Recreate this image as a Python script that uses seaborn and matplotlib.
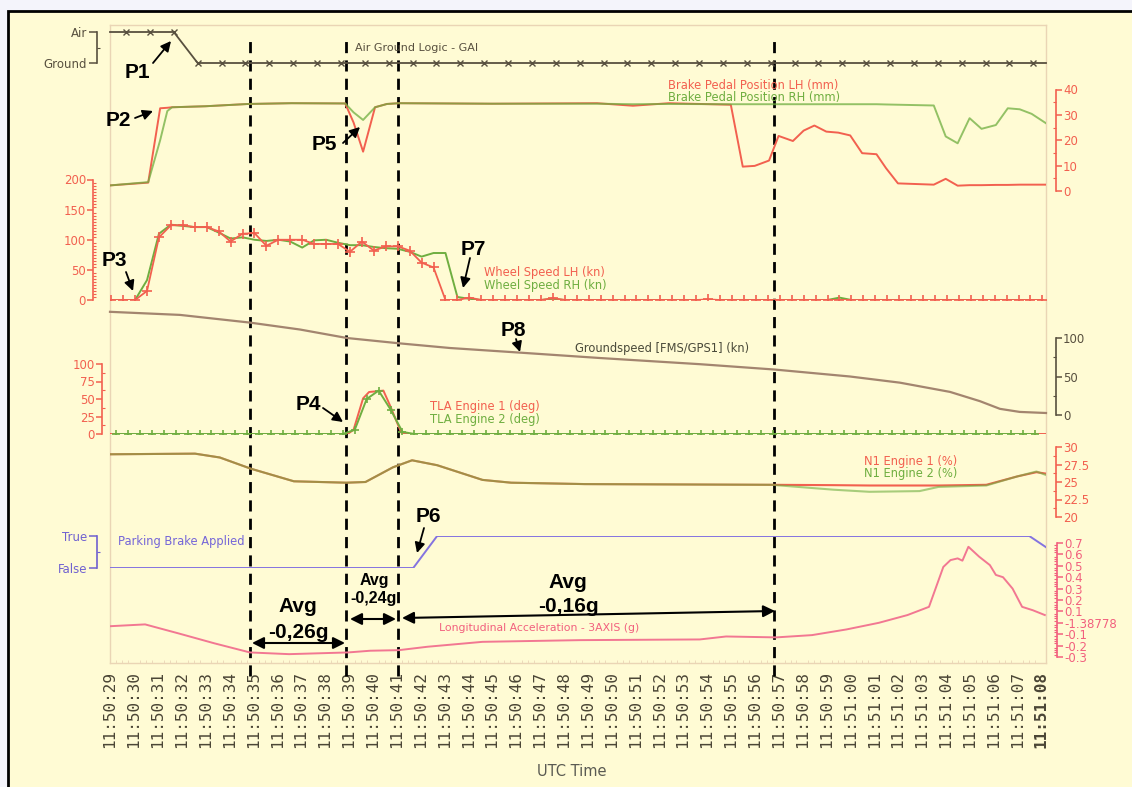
import numpy as np
import matplotlib
matplotlib.use("Agg")
import matplotlib.pyplot as plt
import seaborn as sns
from matplotlib.patches import Rectangle

# figure geometry (pixels, top-left origin)
W, H, DPI = 1132, 787, 100
X_LEFT, X_RIGHT = 110, 1046
BOX_TOP, BOX_BOTTOM = 25, 663
T_MAX = 39.2

CREAM = "#fffbd4"
OUTSIDE = "#f4f4fb"
RED = "#f2604f"
GREEN = "#6fae40"
DARK = "#58503f"
BROWN = "#a3856f"
PURPLE = "#8473e0"
PINK = "#f27792"
NARROW = ["Liberation Sans Narrow", "Liberation Sans", "DejaVu Sans"]

# ---- data (seconds after 11:50:29) ----
TIME_LABELS = ["11:50:29", "11:50:30", "11:50:31", "11:50:32", "11:50:33", "11:50:34",
               "11:50:35", "11:50:36", "11:50:37", "11:50:38", "11:50:39", "11:50:40",
               "11:50:41", "11:50:42", "11:50:43", "11:50:44", "11:50:45", "11:50:46",
               "11:50:47", "11:50:48", "11:50:49", "11:50:50", "11:50:51", "11:50:52",
               "11:50:53", "11:50:54", "11:50:55", "11:50:56", "11:50:57", "11:50:58",
               "11:50:59", "11:51:00", "11:51:01", "11:51:02", "11:51:03", "11:51:04",
               "11:51:05", "11:51:06", "11:51:07", "11:51:08"]

AG_TIME = np.r_[0.0, np.arange(0.67, 39, 1.0), T_MAX]
AG_STATE = [1, 1, 1, 1, 0, 0, 0, 0, 0, 0, 0, 0, 0, 0, 0, 0, 0, 0, 0, 0, 0,
            0, 0, 0, 0, 0, 0, 0, 0, 0, 0, 0, 0, 0, 0, 0, 0, 0, 0, 0, 0]

BRAKE_T = [0, 1.6, 2.1, 2.4, 2.6, 4.0, 5.8, 7.6, 9.85, 10.2, 10.6, 11.1, 11.6, 12.1,
           16, 20.4, 21.9, 23.4, 26.0, 26.5, 27.0, 27.6, 28.0, 28.6, 29.05, 29.5,
           30.0, 30.5, 31.0, 31.5, 32.1, 32.5, 33.0, 34.5, 35.0, 35.5, 36.0, 36.5,
           37.1, 37.6, 38.1, 38.6, 39.2]
BRAKE_LH = [2.2, 3.3, 32.6, 32.8, 33, 33.4, 34.3, 34.6, 34.5, 27, 15.5, 33, 34.3, 34.6,
            34.4, 34.6, 33.6, 34.6, 34, 9.6, 9.9, 12, 21.7, 19.7, 23.8, 25.8,
            23.4, 23, 21.9, 14.9, 14.5, 9, 3, 2.5, 4.8, 2.1, 2.3, 2.3,
            2.4, 2.4, 2.5, 2.5, 2.5]
BRAKE_RH = [2.2, 3.5, 20, 31.5, 33, 33.4, 34.3, 34.6, 34.5, 31, 28, 33, 34.3, 34.6,
            34.4, 34.4, 34.2, 34.3, 34.2, 34.2, 34.2, 34.2, 34.2, 34.2, 34.2, 34.2,
            34.2, 34.2, 34.2, 34.2, 34.2, 34.1, 34.0, 33.7, 21.5, 18.8, 28.7, 24.5,
            26, 32.6, 32.2, 30.4, 26.7]

WHEEL_T = np.arange(0.05, 39.1, 0.5)
WHEEL_LH = [0, 0, 0, 15, 104, 124, 124, 121, 121, 114,
            97, 110, 111, 90, 100, 100, 100, 93, 93, 93,
            80, 97, 82, 89, 89, 82, 62, 54, 0, 0,
            4, 0, 0, 0, 0, 0, 0, 3, 0, 0,
            0, 0, 0, 0, 0, 0, 0, 0, 0, 0,
            1, 0, 0, 0, 0, 0, 0, 0, 0, 0,
            0, 0, 0, 0, 0, 0, 0, 0, 0, 0,
            0, 0, 0, 0, 0, 0, 0, 0, 0]
WHEEL_RH = [0, 0, 0, 33, 110, 125, 123, 121, 121, 112,
            102, 104, 100, 98, 100, 97, 87, 99, 100, 95,
            91, 91, 88, 86, 85, 80, 72, 78, 78, 5,
            2, 0, 0, 0, 0, 0, 0, 2, 0, 0,
            0, 0, 0, 0, 0, 0, 0, 0, 0, 0,
            0, 0, 0, 0, 0, 0, 0, 0, 0, 0,
            0, 4, 0, 0, 0, 0, 0, 0, 0, 0,
            0, 0, 0, 0, 0, 0, 0, 0, 0]

GS_T = [0, 2.93, 5.86, 7.96, 9.92, 12.14, 14.24, 17.17, 20.52, 24.7, 27.85, 30.99,
        33.08, 35.18, 36.43, 37.27, 38.1, 39.2]
GS_V = [134, 130, 120, 111, 100, 93, 87, 81, 74, 66, 59, 50, 42, 30, 18, 8, 4, 2.6]

TLA1_T = [0, 9.95, 10.2, 10.6, 10.85, 11.45, 11.75, 12.0, 12.2, 12.5, 39.2]
TLA1_V = [0, 0, 6, 51, 60, 62, 39, 18, 2, 0, 0]
TLA2_T = np.arange(0.25, 39.0, 0.5)
TLA2_V = [0, 0, 0, 0, 0, 0, 0, 0, 0, 0,
          0, 0, 0, 0, 0, 0, 0, 0, 0, 0,
          6, 50, 62, 35, 3, 0, 0, 0, 0, 0,
          0, 0, 0, 0, 0, 0, 0, 0, 0, 0,
          0, 0, 0, 0, 0, 0, 0, 0, 0, 0,
          0, 0, 0, 0, 0, 0, 0, 0, 0, 0,
          0, 0, 0, 0, 0, 0, 0, 0, 0, 0,
          0, 0, 0, 0, 0, 0, 0, 0]

N1_T = [0, 3.56, 4.6, 5.9, 7.7, 9.9, 10.7, 11.85, 12.65, 13.7, 15.6, 16.8, 19.9,
        27.7, 30.3, 31.8, 33.9, 34.7, 36.7, 38.0, 38.8, 39.2]
N1_ENG1 = [28.96, 29.05, 28.5, 26.9, 25.1, 24.9, 25.0, 27.1, 28.1, 27.4, 25.3, 24.9,
           24.7, 24.6, 24.55, 24.5, 24.5, 24.5, 24.6, 25.8, 26.4, 26.2]
N1_ENG2 = [28.96, 29.05, 28.5, 26.9, 25.1, 24.9, 25.0, 27.1, 28.1, 27.4, 25.3, 24.9,
           24.7, 24.6, 23.9, 23.6, 23.7, 24.3, 24.5, 25.8, 26.5, 26.0]

PB_T = [0, 12.7, 13.7, 38.5, 39.2]
PB_V = [0, 0, 1, 1, 0.65]

ACC_T = [0, 1.47, 2.87, 4.37, 5.86, 7.5, 9.97, 10.9, 12.1, 13.3, 15.6, 19.7, 24.7,
         25.8, 27.9, 29.4, 30.85, 32.2, 33.4, 34.3, 34.9, 35.2, 35.5, 35.7, 35.95,
         36.4, 36.85, 37.1, 37.4, 37.8, 38.2, 38.65, 39.15]
ACC_V = [-0.03, -0.014, -0.093, -0.18, -0.26, -0.275, -0.26, -0.245, -0.24, -0.21,
         -0.167, -0.152, -0.146, -0.12, -0.128, -0.108, -0.058, 0.0, 0.068, 0.14,
         0.49, 0.55, 0.565, 0.545, 0.667, 0.58, 0.506, 0.42, 0.40, 0.30, 0.14, 0.11,
         0.068]
ACC_TICKS = [-0.3, -0.2, -0.1, 0.0, 0.1, 0.2, 0.3, 0.4, 0.5, 0.6, 0.7]
ACC_TICKLABELS = ["-0.3", "-0.2", "-0.1", "-1.38778", "0.1", "0.2", "0.3", "0.4",
                  "0.5", "0.6", "0.7"]

MARK_TIMES = [5.85, 9.9, 12.05, 27.8]


def new_axes(top, bottom):
    ax = fig.add_axes([X_LEFT / W, 1 - bottom / H, (X_RIGHT - X_LEFT) / W,
                       (bottom - top) / H])
    ax.set_facecolor("none")
    return ax


def style_track(ax, ylim, side, offset, color, major, labels=None, minor=None, ticklen=4):
    for name, sp in ax.spines.items():
        sp.set_visible(name == side)
    sp = ax.spines[side]
    sp.set_position(("outward", offset * 72 / DPI))
    sp.set_color(color)
    sp.set_linewidth(1.2)
    ax.set_xticks([])
    ax.yaxis.set_ticks_position(side)
    ax.set_yticks(major)
    if labels is not None:
        ax.set_yticklabels(labels)
    if minor is not None:
        ax.set_yticks(minor, minor=True)
    ax.tick_params(axis="y", which="major", direction="out", length=ticklen, width=1.1,
                   color=color, labelcolor=color, labelsize=8.5, pad=1)
    ax.tick_params(axis="y", which="minor", direction="in", length=2.5, width=0.8,
                   color=color)
    ax.set_xlabel("")
    ax.set_ylabel("")
    ax.set_xlim(0, T_MAX)
    ax.set_ylim(*ylim)


def label(text, x, y, color, size=8.3):
    fig.text(x / W, 1 - y / H, text, color=color, fontsize=size, ha="left", va="center")


def callout(text, pos, tail, head, size=15):
    fig.text(pos[0] / W, 1 - pos[1] / H, text, ha="center", va="center", fontsize=size,
             fontweight="bold", family=NARROW, color="black")
    fig.add_artist(matplotlib.patches.FancyArrowPatch(
        (tail[0] / W, 1 - tail[1] / H), (head[0] / W, 1 - head[1] / H),
        transform=fig.transFigure, arrowstyle="-|>,head_length=6,head_width=3",
        color="black", lw=1.3, shrinkA=0, shrinkB=0))


def span_arrow(x0, y0, x1, y1):
    fig.add_artist(matplotlib.patches.FancyArrowPatch(
        (x0 / W, 1 - y0 / H), (x1 / W, 1 - y1 / H), transform=fig.transFigure,
        arrowstyle="<|-|>,head_length=7,head_width=3.5", color="black", lw=1.5,
        shrinkA=0, shrinkB=0))


plt.rcParams["font.family"] = ["DejaVu Sans"]
fig = plt.figure(figsize=(W / DPI, H / DPI), dpi=DPI, facecolor=OUTSIDE)
fig.patches.append(Rectangle((8 / W, -0.02), 1.1, 1.02 - 11 / H, transform=fig.transFigure,
                             facecolor=CREAM, edgecolor="black", lw=2, zorder=-10))

# main frame with time axis
ax_main = new_axes(BOX_TOP, BOX_BOTTOM)
ax_main.set_xlim(0, T_MAX)
ax_main.set_ylim(0, 1)
ax_main.set_yticks([])
ax_main.set_xticks(range(len(TIME_LABELS)))
ax_main.set_xticklabels(TIME_LABELS, rotation=90, family="DejaVu Sans Mono", fontsize=11.5,
                        color="#4a4535")
ax_main.get_xticklabels()[-1].set_fontweight("bold")
ax_main.set_xticks(np.arange(0, T_MAX, 0.25), minor=True)
ax_main.tick_params(axis="x", which="major", length=0, pad=6)
ax_main.tick_params(axis="x", which="minor", direction="in", length=2, color="#ead5b5")
for sp in ax_main.spines.values():
    sp.set_color("#ead5b5")
    sp.set_linewidth(1.0)
fig.text(572 / W, 1 - 771 / H, "UTC Time", ha="center", va="center", fontsize=10.5,
         color="#5a5a52")

# Air / Ground logic
ax = new_axes(32, 63)
sns.lineplot(x=AG_TIME, y=AG_STATE, ax=ax, color=DARK, linewidth=1.3, marker="x",
             markersize=5, markeredgecolor=DARK, markeredgewidth=1.0,
             markevery=slice(1, len(AG_STATE) - 1), errorbar=None, clip_on=False)
style_track(ax, (0, 1), "left", 13, DARK, [0, 1], ["Ground", "Air"], [0.5], ticklen=6)
label("Air Ground Logic - GAI", 355, 48, DARK, 8)

# Brake pedal positions
ax = new_axes(89.5, 191)
sns.lineplot(x=BRAKE_T, y=BRAKE_LH, ax=ax, color=RED, linewidth=1.4, errorbar=None)
sns.lineplot(x=BRAKE_T, y=BRAKE_RH, ax=ax, color=GREEN, linewidth=1.4, alpha=0.75,
             errorbar=None)
style_track(ax, (0, 40), "right", 10, RED, [0, 10, 20, 30, 40], ["0", "10", "20", "30", "40"],
            [5, 15, 25, 35])
label("Brake Pedal Position LH (mm)", 668, 86, RED)
label("Brake Pedal Position RH (mm)", 668, 97, GREEN)

# Wheel speeds
ax = new_axes(179.5, 300)
sns.lineplot(x=WHEEL_T, y=WHEEL_RH, ax=ax, color=GREEN, linewidth=1.4, errorbar=None)
sns.lineplot(x=WHEEL_T, y=WHEEL_LH, ax=ax, color=RED, linewidth=1.3, marker="+",
             markersize=7, markeredgecolor=RED, markeredgewidth=1.2, errorbar=None)
style_track(ax, (0, 200), "left", 17, RED, [0, 50, 100, 150, 200],
            ["0", "50", "100", "150", "200"], np.arange(0, 201, 5))
label("Wheel Speed LH (kn)", 484, 272, RED)
label("Wheel Speed RH (kn)", 484, 286, GREEN)

# Groundspeed
ax = new_axes(338, 415)
sns.lineplot(x=GS_T, y=GS_V, ax=ax, color=BROWN, linewidth=1.6, errorbar=None, clip_on=False)
style_track(ax, (0, 100), "right", 10, DARK, [0, 50, 100], ["0", "50", "100"], [25, 75])
label("Groundspeed [FMS/GPS1] (kn)", 575, 349, "#4a4a3a")

# TLA
ax = new_axes(364, 434)
sns.lineplot(x=TLA1_T, y=TLA1_V, ax=ax, color=RED, linewidth=1.4, errorbar=None)
sns.lineplot(x=TLA2_T, y=TLA2_V, ax=ax, color=GREEN, linewidth=1.4, marker="+",
             markersize=6, markeredgecolor=GREEN, markeredgewidth=1.2, errorbar=None)
style_track(ax, (0, 100), "left", 8, RED, [0, 25, 50, 75, 100],
            ["0", "25", "50", "75", "100"], [12.5, 37.5, 62.5, 87.5])
label("TLA Engine 1 (deg)", 430, 406, RED)
label("TLA Engine 2 (deg)", 430, 420, GREEN)

# N1
ax = new_axes(447, 517)
sns.lineplot(x=N1_T, y=N1_ENG1, ax=ax, color=RED, linewidth=1.5, errorbar=None)
sns.lineplot(x=N1_T, y=N1_ENG2, ax=ax, color=GREEN, linewidth=1.5, alpha=0.6, errorbar=None)
style_track(ax, (20, 30), "right", 10, RED, [20, 22.5, 25, 27.5, 30],
            ["20", "22.5", "25", "27.5", "30"], np.arange(20, 30.1, 1.25))
label("N1 Engine 1 (%)", 864, 462, RED)
label("N1 Engine 2 (%)", 864, 473, GREEN)

# Parking brake
ax = new_axes(536, 568)
sns.lineplot(x=PB_T, y=PB_V, ax=ax, color=PURPLE, linewidth=1.4, errorbar=None)
style_track(ax, (0, 1), "left", 13, "#6f60d0", [0, 1], ["False", "True"], [0.5], ticklen=6)
label("Parking Brake Applied", 118, 541, "#7566d8")

# Longitudinal acceleration
ax = new_axes(543, 657)
sns.lineplot(x=ACC_T, y=ACC_V, ax=ax, color=PINK, linewidth=1.4, errorbar=None)
style_track(ax, (-0.3, 0.7), "right", 11, "#f2607e", ACC_TICKS, ACC_TICKLABELS,
            np.linspace(-0.3, 0.7, 51))
label("Longitudinal Acceleration - 3AXIS (g)", 439, 628, "#f2607e", 7.8)

# dashed event markers
y_top = (BOX_BOTTOM - 40) / (BOX_BOTTOM - BOX_TOP)
y_bot = (BOX_BOTTOM - 676) / (BOX_BOTTOM - BOX_TOP)
for t in MARK_TIMES:
    ax_main.plot([t, t], [y_bot, y_top], color="black", lw=2, ls=(0, (4, 2.6)),
                 clip_on=False, zorder=20)

# callouts
callout("P1", (137, 73), (153, 63), (171, 41))
callout("P2", (118, 120), (135, 118), (153, 111))
callout("P5", (324, 145), (343, 143), (360, 127))
callout("P3", (114, 261), (126, 272), (133, 291))
callout("P7", (473, 249), (470, 258), (463, 288))
callout("P8", (513, 330), (516, 339), (520, 352))
callout("P4", (308, 405), (323, 408), (343, 422))
callout("P6", (428, 516), (424, 528), (417, 553))

# average deceleration spans
for txt, x, y, size in [("Avg", 298, 607, 15), ("-0,26g", 298, 632, 15),
                        ("Avg", 374, 580, 11.5), ("-0,24g", 374, 599, 11.5),
                        ("Avg", 568, 582, 15), ("-0,16g", 568, 606, 15)]:
    fig.text(x / W, 1 - y / H, txt, ha="center", va="center", fontsize=size,
             fontweight="bold", family=NARROW, color="black")
span_arrow(252, 643, 345, 643)
span_arrow(350, 619, 396, 619)
span_arrow(402, 618, 775, 611)

fig.savefig("out.png", dpi=DPI, facecolor=fig.get_facecolor())
